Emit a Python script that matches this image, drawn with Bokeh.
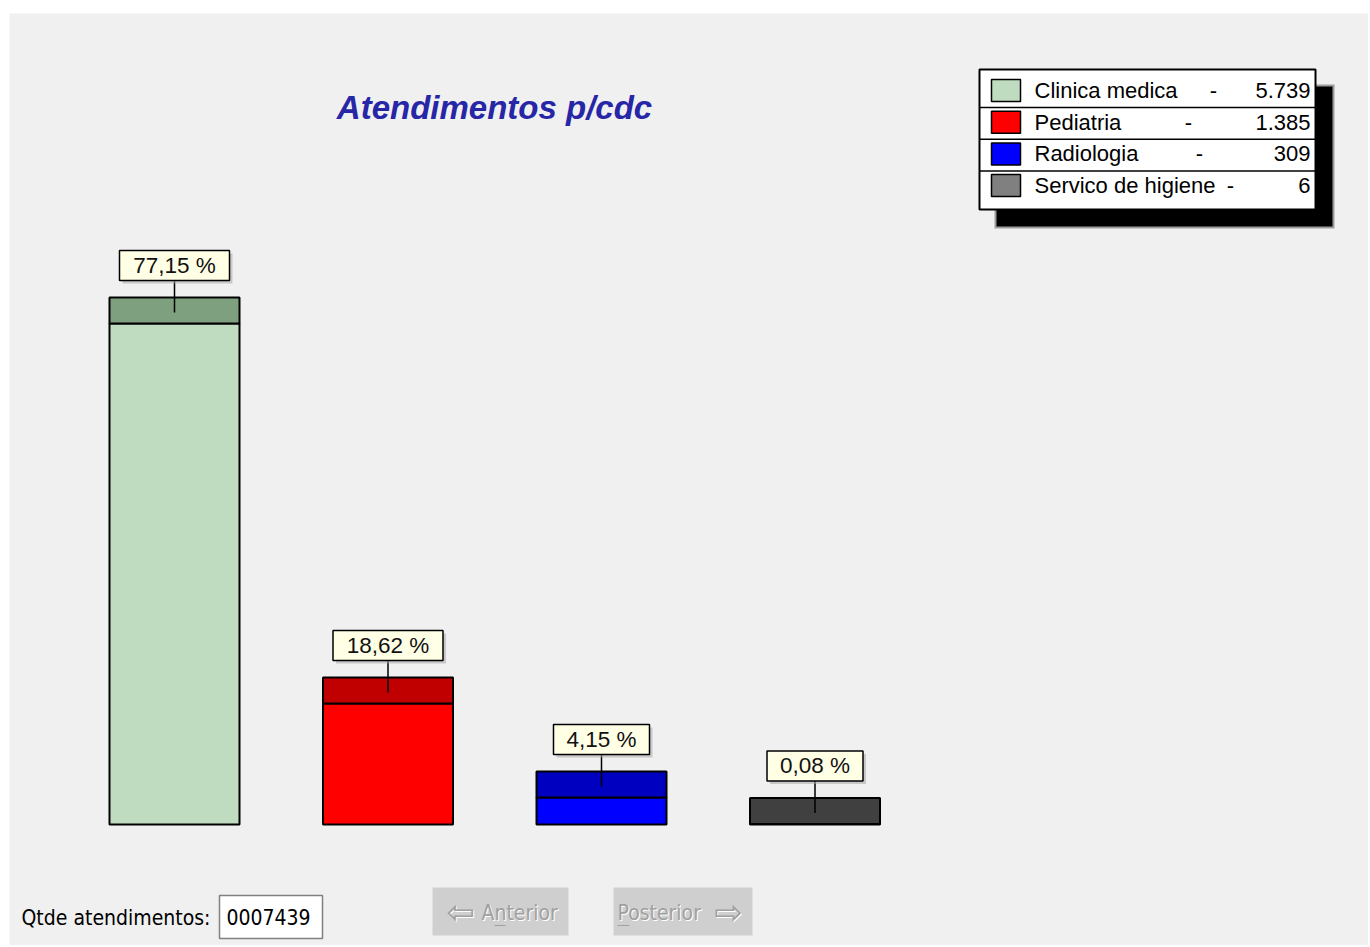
from bokeh.plotting import figure
from bokeh.models import Range1d
from bokeh.embed import file_html
from bokeh.resources import INLINE
from bokeh.core.properties import value

# ---------------- data ----------------
title = "Atendimentos p/cdc"
categories = ["Clinica medica", "Pediatria", "Radiologia", "Servico de higiene"]
counts = [5739, 1385, 309, 6]
percents = [77.15, 18.62, 4.15, 0.08]
total_label = "0007439"
front_colors = ["#C0DCC0", "#FF0000", "#0000FF", "#808080"]
top_colors = ["#7FA07F", "#C00000", "#0000C0", "#404040"]
legend_colors = ["#C0DCC0", "#FF0000", "#0000FF", "#808080"]

# ---------------- layout ----------------
W, H = 1368, 945
OX, OY = 0, 0
BAR_C0, BAR_STEP, BAR_W = 174.0, 213.5, 130.0
ZERO_PX, TOP_PX = 824.0, 323.0
PXP = (ZERO_PX - TOP_PX) / percents[0]       # pixels per percent
DEPTH = 26.0 / PXP                            # 3D top band depth
SANS = value("Liberation Sans")
NARROW = value("DejaVu Sans Condensed, Liberation Sans")

p = figure(width=W, height=H, output_backend="svg", toolbar_location=None,
           x_range=Range1d(OX, OX + W), y_range=Range1d(OY + H, OY),
           x_axis_type=None, y_axis_type=None, min_border=0,
           outline_line_color=None, background_fill_color="white",
           border_fill_color="white")
p.xgrid.visible = False
p.ygrid.visible = False

p.extra_x_ranges = {"bx": Range1d((OX - BAR_C0) / BAR_STEP, (OX + W - BAR_C0) / BAR_STEP)}
p.extra_y_ranges = {"pct": Range1d((ZERO_PX - (OY + H)) / PXP, (ZERO_PX - OY) / PXP)}

# window background
p.quad(left=[9], right=[OX + W], top=[13], bottom=[OY + H],
       fill_color="#F0F0F0", line_color=None)

# ---------------- bars ----------------
xs = list(range(len(categories)))
hw = BAR_W / 2 / BAR_STEP
p.quad(left=[x - hw for x in xs], right=[x + hw for x in xs],
       bottom=[0] * len(xs), top=percents, fill_color=front_colors,
       line_color="black", line_width=2, x_range_name="bx", y_range_name="pct")
p.quad(left=[x - hw for x in xs], right=[x + hw for x in xs],
       bottom=percents, top=[v + DEPTH for v in percents], fill_color=top_colors,
       line_color="black", line_width=2, x_range_name="bx", y_range_name="pct")

# ---------------- value labels ----------------
labels = [f"{v:.2f} %".replace(".", ",") for v in percents]
bw = [(14 * len(t) + 12) / 2 / BAR_STEP for t in labels]
bb = [v + DEPTH + 17 / PXP for v in percents]
bt = [b + 30 / PXP for b in bb]
sx, sy = 3 / BAR_STEP, 3 / PXP
p.segment(x0=xs, y0=bb, x1=xs, y1=[v + DEPTH - 15 / PXP for v in percents],
          line_color="black", line_width=1.5, x_range_name="bx", y_range_name="pct")
p.quad(left=[x - w + sx for x, w in zip(xs, bw)], right=[x + w + sx for x, w in zip(xs, bw)],
       bottom=[b - sy for b in bb], top=[t - sy for t in bt],
       fill_color="#A8A8A8", fill_alpha=0.55, line_color=None,
       x_range_name="bx", y_range_name="pct")
p.quad(left=[x - w for x, w in zip(xs, bw)], right=[x + w for x, w in zip(xs, bw)],
       bottom=bb, top=bt, fill_color="#FFFFE6", line_color="black", line_width=1.5,
       x_range_name="bx", y_range_name="pct")
p.text(x=xs, y=[(b + t) / 2 for b, t in zip(bb, bt)], text=labels,
       text_align="center", text_baseline="middle", text_font=SANS,
       text_font_size="22.5px", text_color="#111111",
       x_range_name="bx", y_range_name="pct")

# ---------------- title ----------------
p.text(x=[494], y=[107], text=[title], text_align="center", text_baseline="middle",
       text_font=SANS, text_font_style="bold italic", text_font_size="33px",
       text_color="#2626A6")

# ---------------- legend ----------------
LX0, LX1, LY0, LY1 = 979, 1315, 69, 209
SH = 17
p.quad(left=[LX0 + SH - 2], right=[LX1 + SH + 2], top=[LY0 + SH - 2], bottom=[LY1 + SH + 2],
       fill_color="black", fill_alpha=0.35, line_color=None)
p.quad(left=[LX0 + SH], right=[LX1 + SH], top=[LY0 + SH], bottom=[LY1 + SH],
       fill_color="black", line_color=None)
p.quad(left=[LX0], right=[LX1], top=[LY0], bottom=[LY1],
       fill_color="white", line_color="black", line_width=2)
row_c = [LY0 + 21 + 31.7 * i for i in range(len(categories))]
sep = [c + 17 for c in row_c[:-1]]
p.segment(x0=[LX0] * len(sep), y0=sep, x1=[LX1] * len(sep), y1=sep,
          line_color="black", line_width=1.5)
p.quad(left=[991] * len(row_c), right=[1020] * len(row_c),
       top=[c - 11 for c in row_c], bottom=[c + 11 for c in row_c],
       fill_color=legend_colors, line_color="black", line_width=1.5)
p.text(x=[1034] * len(row_c), y=row_c, text=categories, text_align="left",
       text_baseline="middle", text_font=SANS, text_font_size="22px", text_color="black")
dash_x = [1213, 1188, 1199, 1230]
p.text(x=dash_x, y=row_c, text=["-"] * len(row_c), text_align="center",
       text_baseline="middle", text_font=SANS, text_font_size="22px", text_color="black")
count_txt = [f"{c:,}".replace(",", ".") for c in counts]
p.text(x=[1310] * len(row_c), y=row_c, text=count_txt, text_align="right",
       text_baseline="middle", text_font=SANS, text_font_size="22px", text_color="black")

# ---------------- bottom controls ----------------
p.text(x=[21], y=[917], text=["Qtde atendimentos:"], text_align="left",
       text_baseline="middle", text_font=NARROW, text_font_size="21px", text_color="black")
p.quad(left=[219], right=[322], top=[895], bottom=[938],
       fill_color="white", line_color="#808080", line_width=1.5)
p.text(x=[226], y=[916], text=[total_label], text_align="left",
       text_baseline="middle", text_font=NARROW, text_font_size="21px", text_color="black")

p.quad(left=[432, 613], right=[568, 752], top=[887, 887], bottom=[935, 935],
       fill_color="#CFCFCF", line_color=None)
for dx, col in ((1, "white"), (0, "#A0A0A0")):
    p.text(x=[460 + dx, 728 + dx], y=[911 + dx, 911 + dx], text=["\u21e6", "\u21e8"],
           text_align="center", text_baseline="middle", text_font=value("DejaVu Sans"),
           text_font_size="34px", text_color=col)
    p.text(x=[481 + dx, 617 + dx], y=[912 + dx, 912 + dx], text=["Anterior", "Posterior"],
           text_align="left", text_baseline="middle", text_font=NARROW,
           text_font_size="21px", text_color=col)
p.segment(x0=[494, 617], y0=[925, 925], x1=[505, 629], y1=[925, 925],
          line_color="#A0A0A0", line_width=1)

open("out.html", "w").write(file_html(p, INLINE))
